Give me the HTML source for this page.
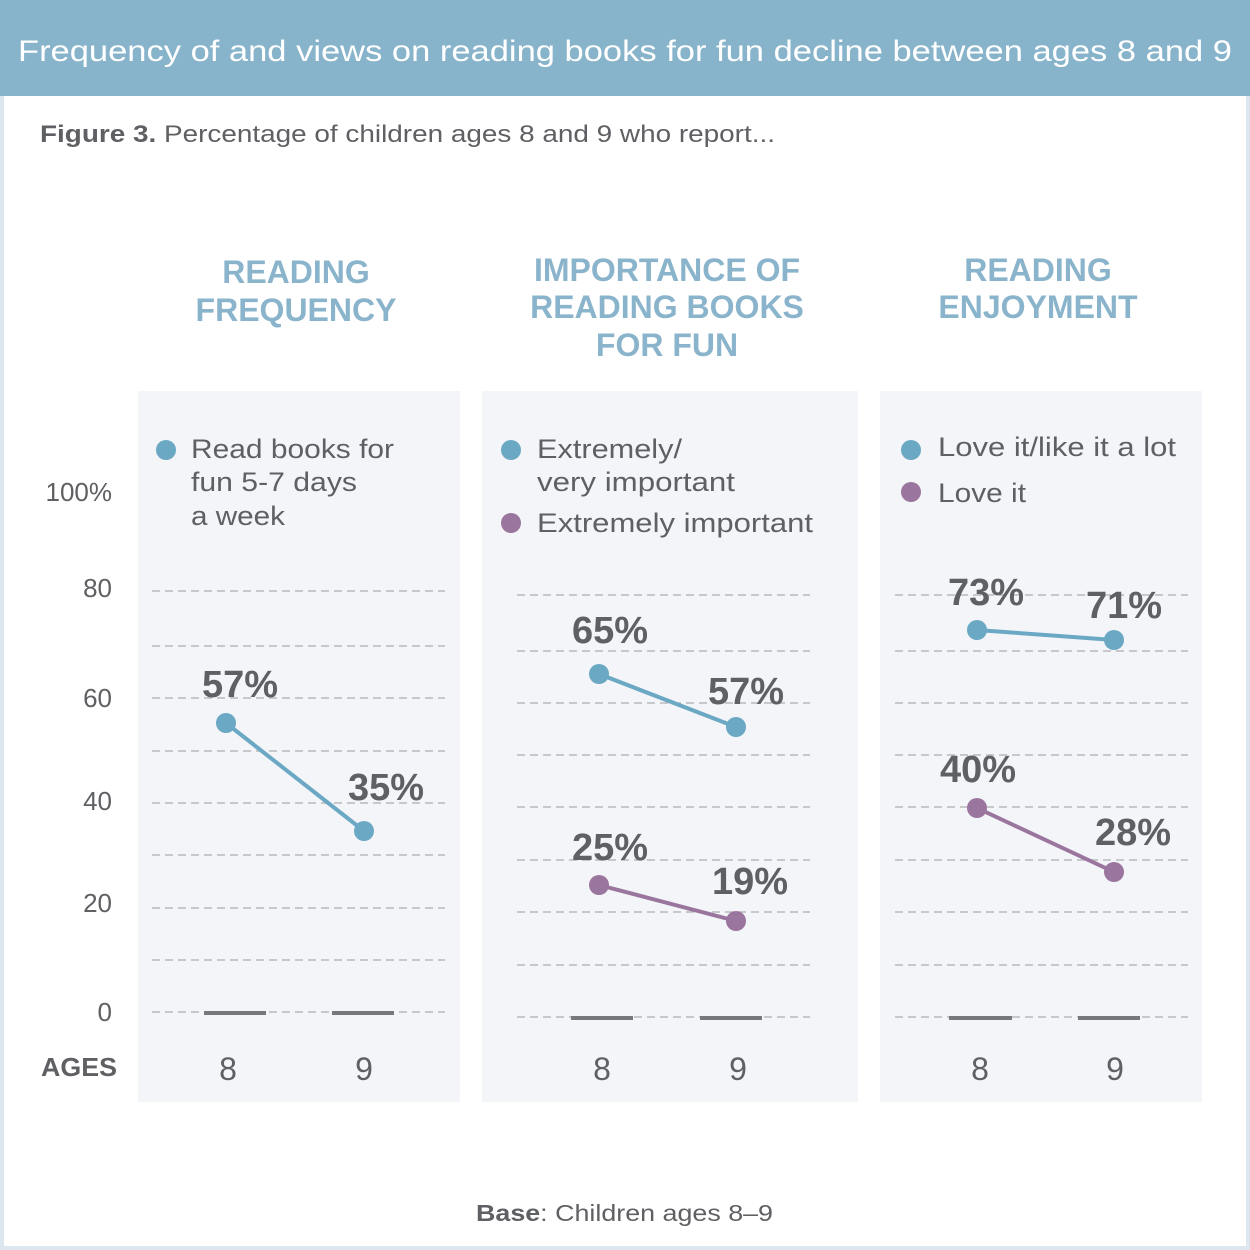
<!DOCTYPE html>
<html><head><meta charset="utf-8"><style>
html,body{margin:0;padding:0;background:#fff;}
svg{display:block;}
text{font-family:"Liberation Sans",sans-serif;}
</style></head><body>
<svg width="1250" height="1250" viewBox="0 0 1250 1250" xmlns="http://www.w3.org/2000/svg">
<rect x="0" y="0" width="1250" height="1250" fill="#dde7ef"/>
<rect x="4" y="0" width="1242" height="1246" fill="#ffffff"/>
<rect x="0" y="0" width="1250" height="96" fill="#87b4cb"/>
<text x="18" y="61" font-size="30" fill="#fff" textLength="1214" lengthAdjust="spacingAndGlyphs">Frequency of and views on reading books for fun decline between ages 8 and 9</text>
<text x="40" y="142" font-size="24" fill="#5f6063" textLength="735" lengthAdjust="spacingAndGlyphs"><tspan font-weight="bold">Figure 3.</tspan> Percentage of children ages 8 and 9 who report...</text>

<g font-weight="bold" font-size="32" fill="#8ab4cb" text-anchor="middle">
<text x="296" y="283">READING</text>
<text x="296" y="321">FREQUENCY</text>
<text x="667" y="281">IMPORTANCE OF</text>
<text x="667" y="318">READING BOOKS</text>
<text x="667" y="356">FOR FUN</text>
<text x="1038" y="281">READING</text>
<text x="1038" y="318">ENJOYMENT</text>
</g>

<rect x="138" y="391" width="322" height="711" fill="#f3f5f9"/>
<rect x="482" y="391" width="376" height="711" fill="#f3f5f9"/>
<rect x="880" y="391" width="322" height="711" fill="#f3f5f9"/>

<g stroke="#b8b9bc" stroke-width="1.5" stroke-dasharray="8,5">
<line x1="152" y1="591" x2="445" y2="591"/><line x1="152" y1="646" x2="445" y2="646"/>
<line x1="152" y1="698" x2="445" y2="698"/><line x1="152" y1="751" x2="445" y2="751"/>
<line x1="152" y1="803" x2="445" y2="803"/><line x1="152" y1="855" x2="445" y2="855"/>
<line x1="152" y1="908" x2="445" y2="908"/><line x1="152" y1="960" x2="445" y2="960"/>
<line x1="152" y1="1012" x2="445" y2="1012"/>
<line x1="517" y1="595" x2="810" y2="595"/><line x1="517" y1="651" x2="810" y2="651"/>
<line x1="517" y1="703" x2="810" y2="703"/><line x1="517" y1="755" x2="810" y2="755"/>
<line x1="517" y1="807" x2="810" y2="807"/><line x1="517" y1="860" x2="810" y2="860"/>
<line x1="517" y1="912" x2="810" y2="912"/><line x1="517" y1="965" x2="810" y2="965"/>
<line x1="517" y1="1017" x2="810" y2="1017"/>
<line x1="895" y1="595" x2="1188" y2="595"/><line x1="895" y1="651" x2="1188" y2="651"/>
<line x1="895" y1="703" x2="1188" y2="703"/><line x1="895" y1="755" x2="1188" y2="755"/>
<line x1="895" y1="807" x2="1188" y2="807"/><line x1="895" y1="860" x2="1188" y2="860"/>
<line x1="895" y1="912" x2="1188" y2="912"/><line x1="895" y1="965" x2="1188" y2="965"/>
<line x1="895" y1="1017" x2="1188" y2="1017"/>
</g>
<g stroke="#77787c" stroke-width="4">
<line x1="204" y1="1013" x2="266" y2="1013"/><line x1="332" y1="1013" x2="394" y2="1013"/>
<line x1="571" y1="1018" x2="633" y2="1018"/><line x1="700" y1="1018" x2="762" y2="1018"/>
<line x1="949" y1="1018" x2="1012" y2="1018"/><line x1="1078" y1="1018" x2="1140" y2="1018"/>
</g>

<g font-size="26" fill="#5f6063" text-anchor="end">
<text x="112" y="501">100%</text>
<text x="112" y="597">80</text>
<text x="112" y="707">60</text>
<text x="112" y="810">40</text>
<text x="112" y="912">20</text>
<text x="112" y="1021">0</text>
</g>
<text x="41" y="1076" font-size="26" font-weight="bold" fill="#5f6063" textLength="76" lengthAdjust="spacingAndGlyphs">AGES</text>
<g font-size="32" fill="#5f6063" text-anchor="middle">
<text x="228" y="1080">8</text><text x="364" y="1080">9</text>
<text x="602" y="1080">8</text><text x="738" y="1080">9</text>
<text x="980" y="1080">8</text><text x="1115" y="1080">9</text>
</g>

<g font-size="27" fill="#5f6063">
<circle cx="166" cy="450" r="10" fill="#6aa8c4"/>
<text x="191" y="458" textLength="203" lengthAdjust="spacingAndGlyphs">Read books for</text>
<text x="191" y="491" textLength="166" lengthAdjust="spacingAndGlyphs">fun 5-7 days</text>
<text x="191" y="525" textLength="94" lengthAdjust="spacingAndGlyphs">a week</text>
<circle cx="511" cy="450" r="10" fill="#6aa8c4"/>
<text x="537" y="458" textLength="145" lengthAdjust="spacingAndGlyphs">Extremely/</text>
<text x="537" y="491" textLength="198" lengthAdjust="spacingAndGlyphs">very important</text>
<circle cx="511" cy="523" r="10" fill="#9a759e"/>
<text x="537" y="532" textLength="276" lengthAdjust="spacingAndGlyphs">Extremely important</text>
<circle cx="911" cy="450" r="10" fill="#6aa8c4"/>
<text x="938" y="456" textLength="238" lengthAdjust="spacingAndGlyphs">Love it/like it a lot</text>
<circle cx="911" cy="492" r="10" fill="#9a759e"/>
<text x="938" y="502" textLength="88" lengthAdjust="spacingAndGlyphs">Love it</text>
</g>

<g stroke-width="4">
<line x1="226" y1="723" x2="364" y2="831" stroke="#6aa8c4"/>
<line x1="599" y1="674" x2="736" y2="727" stroke="#6aa8c4"/>
<line x1="599" y1="885" x2="736" y2="921" stroke="#9a759e"/>
<line x1="977" y1="630" x2="1114" y2="640" stroke="#6aa8c4"/>
<line x1="977" y1="808" x2="1114" y2="872" stroke="#9a759e"/>
</g>
<g fill="#6aa8c4">
<circle cx="226" cy="723" r="10"/><circle cx="364" cy="831" r="10"/>
<circle cx="599" cy="674" r="10"/><circle cx="736" cy="727" r="10"/>
<circle cx="977" cy="630" r="10"/><circle cx="1114" cy="640" r="10"/>
</g>
<g fill="#9a759e">
<circle cx="599" cy="885" r="10"/><circle cx="736" cy="921" r="10"/>
<circle cx="977" cy="808" r="10"/><circle cx="1114" cy="872" r="10"/>
</g>

<g font-size="38" font-weight="bold" fill="#5f6063" text-anchor="middle">
<text x="240" y="697">57%</text>
<text x="386" y="800">35%</text>
<text x="610" y="643">65%</text>
<text x="746" y="704">57%</text>
<text x="610" y="860">25%</text>
<text x="750" y="894">19%</text>
<text x="986" y="605">73%</text>
<text x="1124" y="618">71%</text>
<text x="978" y="782">40%</text>
<text x="1133" y="845">28%</text>
</g>

<text x="476" y="1221" font-size="23" fill="#5f6063" textLength="297" lengthAdjust="spacingAndGlyphs"><tspan font-weight="bold">Base</tspan>: Children ages 8–9</text>
</svg>
</body></html>
